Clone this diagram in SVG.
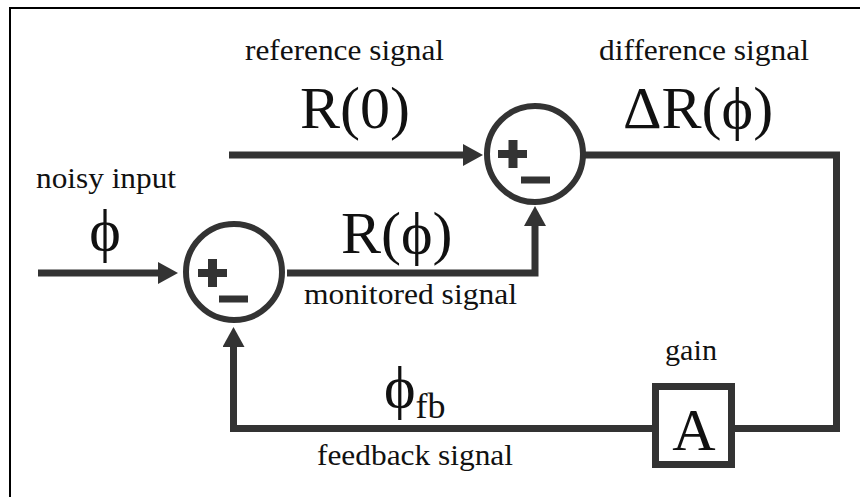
<svg xmlns="http://www.w3.org/2000/svg" width="860" height="497" viewBox="0 0 860 497">
<style>
.w{fill:none;stroke:#333;stroke-width:7}
.sum{fill:#fff;stroke:#333;stroke-width:6}
.sg{fill:#333}
.s{font-family:'Liberation Serif','Times New Roman',serif;font-size:29px;fill:#111}
.b{font-family:'Liberation Serif','Times New Roman',serif;font-size:60px;fill:#111}
</style>
<defs>
<marker id="ah" markerUnits="userSpaceOnUse" markerWidth="20" markerHeight="22" refX="0" refY="11" orient="auto" viewBox="0 0 20 22">
<path d="M0,0 L20,11 L0,22 z" fill="#333"/>
</marker>
</defs>
<rect x="10" y="8" width="860" height="520" fill="none" stroke="#000" stroke-width="2"/>
<g id="connectors">
<line class="w" x1="38" y1="273" x2="158" y2="273" marker-end="url(#ah)"/>
<line class="w" x1="229" y1="155" x2="463" y2="155" marker-end="url(#ah)"/>
<polyline class="w" points="287,273 535,273 535,226" marker-end="url(#ah)"/>
<polyline class="w" points="585,155 836.5,155 836.5,428.5 735,428.5"/>
<polyline class="w" points="652,428.5 233.5,428.5 233.5,347" marker-end="url(#ah)"/>
</g>
<g id="sum1">
<circle class="sum" cx="234" cy="272" r="48"/>
<rect class="sg" x="198" y="269" width="29" height="8"/>
<rect class="sg" x="208" y="259" width="9" height="28"/>
<rect class="sg" x="219" y="295.5" width="29" height="7"/>
</g>
<g id="sum2">
<circle class="sum" cx="535" cy="154" r="48"/>
<rect class="sg" x="498" y="150" width="29" height="8"/>
<rect class="sg" x="508.5" y="140" width="9" height="28"/>
<rect class="sg" x="521" y="176.5" width="29" height="7"/>
</g>
<g id="gain">
<rect x="655.5" y="386.5" width="76" height="78" fill="#fff" stroke="#333" stroke-width="7"/>
<text class="b" x="694" y="450" text-anchor="middle">A</text>
</g>
<g id="labels">
<text class="s" x="36" y="188" textLength="140" lengthAdjust="spacingAndGlyphs">noisy input</text>
<text class="b" x="105" y="250" text-anchor="middle">ϕ</text>
<text class="s" x="245" y="60" textLength="199" lengthAdjust="spacingAndGlyphs">reference signal</text>
<text class="b" x="300" y="128">R(0)</text>
<text class="s" x="599" y="60" textLength="210" lengthAdjust="spacingAndGlyphs">difference signal</text>
<text class="b" x="623" y="128">ΔR(ϕ)</text>
<text class="b" x="341" y="253">R(ϕ)</text>
<text class="s" x="304" y="304" textLength="213" lengthAdjust="spacingAndGlyphs">monitored signal</text>
<text class="s" x="665" y="360" textLength="52" lengthAdjust="spacingAndGlyphs">gain</text>
<text class="b" x="384" y="407">ϕ<tspan font-size="36" dy="11">fb</tspan></text>
<text class="s" x="317" y="465" textLength="196" lengthAdjust="spacingAndGlyphs">feedback signal</text>
</g>
</svg>
